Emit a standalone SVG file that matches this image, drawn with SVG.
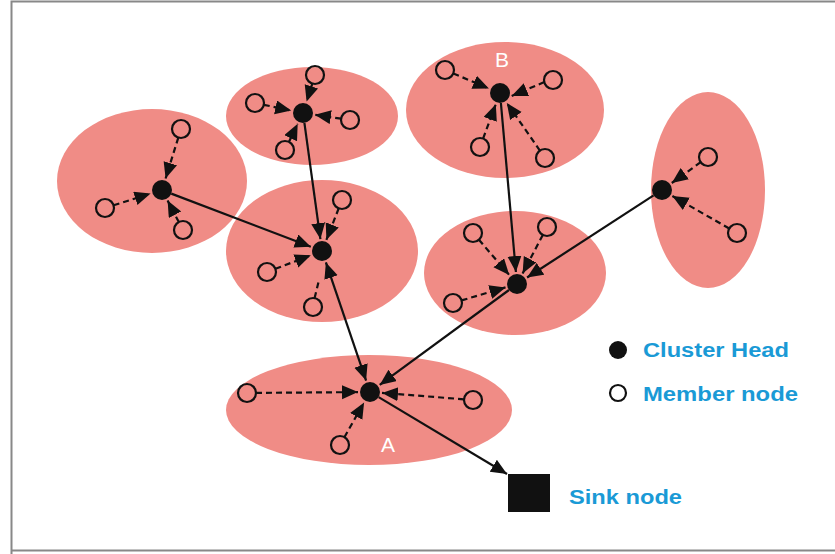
<svg xmlns="http://www.w3.org/2000/svg" width="835" height="554" viewBox="0 0 835 554">
<style>
.cl{fill:#f08c86}
.ch{fill:#111}
.mb{fill:none;stroke:#111;stroke-width:2.2}
.sl{stroke:#111;stroke-width:2.2;fill:none;marker-end:url(#ah)}
.dl{stroke:#111;stroke-width:2.2;fill:none;stroke-dasharray:6,4;marker-end:url(#ah)}
.lg{font-family:"Liberation Sans",Arial,sans-serif;font-weight:bold;font-size:20px;fill:#1a9ad6}
.lb{font-family:"Liberation Sans",Arial,sans-serif;font-size:21px;fill:#fff;text-anchor:middle}
</style>
<defs>
<marker id="ah" markerUnits="userSpaceOnUse" markerWidth="17" markerHeight="15" refX="16" refY="7" orient="auto-start-reverse">
<path d="M0,0 L16,7 L0,14 z" fill="#111"/>
</marker>
</defs>
<rect x="0" y="0" width="835" height="554" fill="#fff"/>
<path d="M11.5,554 V1.5 H835 M11.5,550.5 H835" stroke="#888" stroke-width="2" fill="none"/>

<g id="cluster1">
<ellipse class="cl" cx="152" cy="181" rx="95" ry="72"/>
<circle class="ch" cx="162" cy="190" r="10"/>
<circle class="mb" cx="181" cy="129" r="9"/>
<circle class="mb" cx="105" cy="208" r="9"/>
<circle class="mb" cx="183" cy="230" r="9"/>
</g>
<g id="cluster2">
<ellipse class="cl" cx="312" cy="116" rx="86" ry="49"/>
<circle class="ch" cx="303" cy="113" r="10"/>
<circle class="mb" cx="315" cy="75" r="9"/>
<circle class="mb" cx="255" cy="103" r="9"/>
<circle class="mb" cx="350" cy="120" r="9"/>
<circle class="mb" cx="285" cy="150" r="9"/>
</g>
<g id="clusterB">
<ellipse class="cl" cx="505" cy="110" rx="99" ry="68"/>
<circle class="ch" cx="500" cy="93" r="10"/>
<circle class="mb" cx="445" cy="70" r="9"/>
<circle class="mb" cx="553" cy="80" r="9"/>
<circle class="mb" cx="480" cy="147" r="9"/>
<circle class="mb" cx="545" cy="158" r="9"/>
<text class="lb" x="502" y="67">B</text>
</g>
<g id="cluster4">
<ellipse class="cl" cx="322" cy="251" rx="96" ry="71"/>
<circle class="ch" cx="322" cy="251" r="10"/>
<circle class="mb" cx="342" cy="200" r="9"/>
<circle class="mb" cx="267" cy="272" r="9"/>
<circle class="mb" cx="313" cy="307" r="9"/>
</g>
<g id="cluster5">
<ellipse class="cl" cx="515" cy="273" rx="91" ry="62"/>
<circle class="ch" cx="517" cy="284" r="10"/>
<circle class="mb" cx="473" cy="233" r="9"/>
<circle class="mb" cx="547" cy="227" r="9"/>
<circle class="mb" cx="453" cy="303" r="9"/>
</g>
<g id="cluster6">
<ellipse class="cl" cx="708" cy="190" rx="57" ry="98"/>
<circle class="ch" cx="662" cy="190" r="10"/>
<circle class="mb" cx="708" cy="157" r="9"/>
<circle class="mb" cx="737" cy="233" r="9"/>
</g>
<g id="clusterA">
<ellipse class="cl" cx="369" cy="410" rx="143" ry="55"/>
<circle class="ch" cx="370" cy="392" r="10"/>
<circle class="mb" cx="247" cy="393" r="9"/>
<circle class="mb" cx="473" cy="400" r="9"/>
<circle class="mb" cx="340" cy="445" r="9"/>
<text class="lb" x="388" y="452">A</text>
</g>
<g id="sink">
<rect x="508" y="474" width="42" height="38" fill="#111"/>
<text class="lg" x="569" y="504" textLength="113" lengthAdjust="spacingAndGlyphs">Sink node</text>
</g>
<g id="legend">
<circle class="ch" cx="618" cy="350" r="9"/>
<text class="lg" x="643" y="357" textLength="146" lengthAdjust="spacingAndGlyphs">Cluster Head</text>
<circle class="mb" cx="618" cy="393" r="8"/>
<text class="lg" x="643" y="401" textLength="155" lengthAdjust="spacingAndGlyphs">Member node</text>
</g>

<g id="connectors">
<path class="sl" d="M171.3,193.6 L310.8,246.7"/>
<path class="sl" d="M304.4,122.9 L320.4,239.1"/>
<path class="sl" d="M325.9,262.4 L366.1,380.6" marker-start="url(#ah)"/>
<path class="sl" d="M500.9,103 L515.9,272"/>
<path class="sl" d="M653.6,195.4 L527.1,277.5"/>
<path class="sl" d="M509,290 L379.7,384.9"/>
<path class="sl" d="M378.6,397.1 L507,474"/>

<path class="dl" d="M178.3,137.6 L165.6,178.5"/>
<path class="dl" d="M113.6,205.3 L150.6,193.6"/>
<path class="dl" d="M178.8,222 L167.6,200.6"/>

<path class="dl" d="M312.3,83.6 L306.6,101.6"/>
<path class="dl" d="M263.8,104.8 L291.2,110.6"/>
<path class="dl" d="M341.1,118.7 L314.9,114.8"/>
<path class="dl" d="M288.9,141.9 L297.7,123.8"/>

<path class="dl" d="M453.3,73.5 L488.9,88.4"/>
<path class="dl" d="M544.3,82.1 L511.7,95.9"/>
<path class="dl" d="M483.1,138.6 L495.8,104.3"/>
<path class="dl" d="M539.9,150.6 L506.8,102.9"/>

<path class="dl" d="M338.7,208.4 L326.4,239.8"/>
<path class="dl" d="M275.4,268.8 L310.8,255.3"/>
<path d="M314.6,298 L319,280" stroke="#111" stroke-width="2.2" stroke-dasharray="6,4" fill="none"/>

<path class="dl" d="M478.9,239.8 L509.2,274.9"/>
<path class="dl" d="M542.8,235 L522.6,273.4"/>
<path class="dl" d="M461.6,300.4 L505.5,287.4"/>

<path class="dl" d="M700.7,162.2 L671.8,183"/>
<path class="dl" d="M729.2,228.5 L672.4,196"/>

<path class="dl" d="M256,392.9 L358,392.1"/>
<path class="dl" d="M464,399.3 L382,392.9"/>
<path class="dl" d="M344.4,437.2 L364.1,402.4"/>
</g>
</svg>
